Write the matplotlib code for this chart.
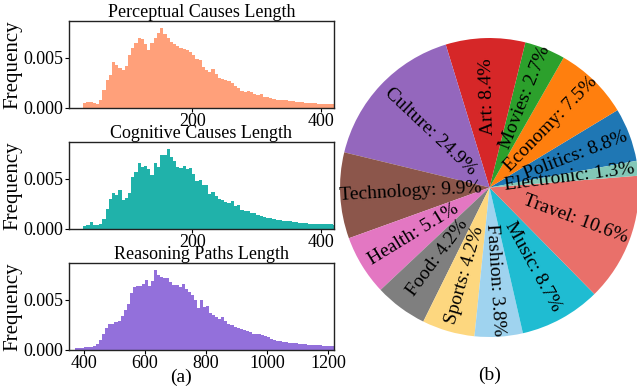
import numpy as np
import matplotlib
matplotlib.use("Agg")
import matplotlib.pyplot as plt

plt.rcParams['font.family'] = ['Liberation Serif', 'DejaVu Serif']

# histogram densities (x 1e-3)
perc_start, perc_step = 30, 5
perc_density = [0.5, 0.6, 0.6, 0.5, 0.4, 0.8, 1.8, 2.8, 3.3, 4.6,
                4.3, 4.0, 3.8, 4.2, 5.3, 6.0, 6.5, 7.0, 6.9, 6.4,
                5.8, 6.5, 7.0, 7.5, 8.0, 7.4, 7.0, 6.6, 6.4, 6.2,
                6.0, 5.9, 5.8, 5.6, 5.3, 4.9, 4.8, 4.1, 3.8, 3.6,
                3.9, 3.4, 3.0, 2.9, 2.8, 2.7, 2.5, 2.2, 2.0, 1.7,
                1.6, 1.7, 1.6, 1.4, 1.3, 1.4, 1.1, 1.1, 1.0, 0.9,
                0.8, 0.8, 0.75, 0.75, 0.7, 0.65, 0.6, 0.6, 0.55, 0.5,
                0.5, 0.45, 0.45, 0.4, 0.4, 0.4, 0.4, 0.35, 0.35]

cogn_start, cogn_step = 30, 5
cogn_density = [0.3, 0.4, 0.7, 0.4, 0.4, 0.5, 1.0, 2.0, 3.0, 3.6,
                3.4, 3.9, 2.9, 3.1, 3.6, 5.2, 5.7, 6.6, 6.2, 6.3,
                6.0, 5.4, 6.6, 6.2, 7.4, 7.4, 8.0, 7.2, 6.8, 6.2,
                6.1, 6.3, 6.0, 6.1, 5.5, 4.8, 4.9, 4.4, 4.4, 3.5,
                3.7, 3.3, 3.0, 2.9, 2.7, 2.6, 2.8, 2.3, 2.4, 1.9,
                1.8, 1.8, 1.6, 1.6, 1.4, 1.3, 1.2, 1.1, 1.05, 0.95,
                0.9, 0.85, 0.8, 0.75, 0.75, 0.7, 0.7, 0.6, 0.6, 0.55,
                0.5, 0.5, 0.5, 0.45, 0.45, 0.45, 0.45, 0.45, 0.4]

reason_start, reason_step = 370, 10
reason_density = [0.15, 0.2, 0.2, 0.25, 0.3, 0.3, 0.4, 0.6, 1.0, 1.6,
                  2.2, 2.6, 2.6, 2.8, 2.9, 3.4, 4.0, 4.6, 5.7, 6.3,
                  6.4, 6.4, 6.6, 7.0, 6.4, 6.9, 8.0, 7.5, 7.3, 7.2,
                  7.2, 6.8, 6.5, 6.5, 6.3, 6.6, 6.1, 5.8, 5.5, 5.0,
                  4.2, 5.0, 4.3, 4.4, 3.7, 3.5, 3.3, 3.1, 3.3, 2.9,
                  2.6, 2.5, 2.3, 2.2, 2.1, 2.0, 1.9, 1.8, 1.6, 1.6,
                  1.6, 1.5, 1.4, 1.3, 1.1, 1.0, 0.9, 0.85, 0.8, 0.75,
                  0.7, 0.7, 0.65, 0.6, 0.6, 0.55, 0.5, 0.45, 0.45, 0.45,
                  0.45, 0.4, 0.4, 0.35, 0.35]

# x ticks of each histogram
perc_ticks = [200, 400]
cogn_ticks = [200, 400]
reason_ticks = [400, 600, 800, 1000, 1200]

# pie: wedge shares as drawn, and the percentages printed in the labels
topics = ['Politics', 'Economy', 'Movies', 'Art', 'Culture', 'Technology', 'Health',
          'Food', 'Sports', 'Fashion', 'Music', 'Travel', 'Electronic']
wedge_share = [5.8, 8.1, 4.4, 8.6, 16.5, 9.3, 6.5, 5.7, 5.7, 5.2, 8.8, 13.9, 1.6]
label_pct = [8.8, 7.5, 2.7, 8.4, 24.9, 9.9, 5.1, 4.2, 4.2, 3.8, 8.7, 10.6, 1.3]
pie_colors = ['#1f77b4', '#ff7f0e', '#2ca02c', '#d62728', '#9467bd', '#8c564b', '#e377c2',
              '#7f7f7f', '#fdd77f', '#9fd3ef', '#1fbcd2', '#e9706a', '#82c8b7']
# radial start of each label (fraction of radius)
label_r = [0.25, 0.17, 0.28, 0.35, 0.15, 0.05, 0.25, 0.28, 0.27, 0.24, 0.27, 0.24, 0.1]

fig = plt.figure(figsize=(6.37, 3.88), dpi=100)

hists = [
    ("Perceptual Causes Length", perc_start, perc_step, perc_density, perc_ticks, '#FFA07A', (8, 421), 0.7224),
    ("Cognitive Causes Length", cogn_start, cogn_step, cogn_density, cogn_ticks, '#20B2AA', (8, 421), 0.4106),
    ("Reasoning Paths Length", reason_start, reason_step, reason_density, reason_ticks, '#9370DB', (351, 1219), 0.0987),
]
for title, start, step, dens, ticks, color, xlim, bottom in hists:
    ax = fig.add_axes([0.1083, bottom, 0.416, 0.2235])
    edges = start + step * np.arange(len(dens))
    ax.bar(edges, np.array(dens) * 1e-3, width=step, align='edge', color=color, linewidth=0)
    ax.set_xlim(*xlim)
    ax.set_xticks(ticks)
    ax.set_ylim(0, 0.00867)
    ax.set_yticks([0, 0.005])
    ax.set_yticklabels(['0.000', '0.005'])
    ax.set_title(title, fontsize=13, pad=3)
    ax.set_ylabel("Frequency", fontsize=15, labelpad=1)
    ax.tick_params(labelsize=13, length=3, pad=1)
    for s in ax.spines.values():
        s.set_linewidth(1.0)
        s.set_color('#222222')

fig.text(0.284, 0.027, "(a)", fontsize=14, ha='center', va='center')

pax = fig.add_axes([0.5338, 0.1314, 0.4694, 0.7706])
wedges, _ = pax.pie(wedge_share, colors=pie_colors, startangle=10.3, counterclock=True)
pax.set_xlim(-1, 1)
pax.set_ylim(-1, 1)
for w, name, pct, r0 in zip(wedges, topics, label_pct, label_r):
    mid = np.deg2rad((w.theta1 + w.theta2) / 2)
    x, y = r0 * np.cos(mid), r0 * np.sin(mid)
    flip = np.cos(mid) < -0.05
    rot = np.rad2deg(mid) + (180 if flip else 0)
    pax.text(x, y, f"{name}: {pct}%", rotation=rot, rotation_mode='anchor',
             ha='right' if flip else 'left', va='center', fontsize=14, clip_on=False)

fig.text(0.768, 0.032, "(b)", fontsize=14, ha='center', va='center')

fig.savefig("out.png", dpi=100)
